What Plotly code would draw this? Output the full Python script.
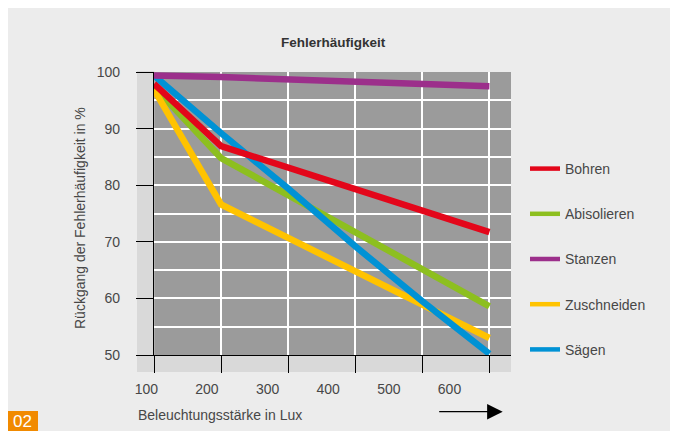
import plotly.graph_objects as go

# ---- data ----
lux = [100, 200, 300, 400, 500, 600]
bohren = [97.9, 86.9, None, None, None, 71.7]
abisolieren = [97.4, 84.8, None, None, None, 58.6]
stanzen = [99.4, 99.1, None, None, None, 97.5]
zuschneiden = [96.9, 76.6, None, None, None, 53.0]
saegen = [99.4, 89.2, 79.4, 69.2, 59.5, 50.2]
x_ticks = [100, 200, 300, 400, 500, 600]
y_ticks = [50, 60, 70, 80, 90, 100]

series = [
    ("Bohren", bohren, "#e3061a"),
    ("Abisolieren", abisolieren, "#8dbf1f"),
    ("Stanzen", stanzen, "#9c2f8b"),
    ("Zuschneiden", zuschneiden, "#ffc300"),
    ("Sägen", saegen, "#0092d5"),
]
draw_order = ["Abisolieren", "Zuschneiden", "Sägen", "Stanzen", "Bohren"]

FONT = "Liberation Sans, Arial, sans-serif"
TXT = "#474747"
FS = 14

# ---- geometry (figure pixels; page has 8px body margin) ----
OFF = 8
W, H = 670, 423
ML, MR, MT, MB = 146, 167, 64, 76
PL, PR, PT, PB = ML, W - MR, MT, H - MB


def px(page_x):
    return (page_x - OFF - PL) / (PR - PL)


def py(page_y):
    return (PB - (page_y - OFF)) / (PB - PT)


fig = go.Figure()

lookup = {n: (v, c) for n, v, c in series}
for name in draw_order:
    vals, col = lookup[name]
    xs = [x for x, v in zip(lux, vals) if v is not None]
    ys = [v for v in vals if v is not None]
    fig.add_trace(go.Scatter(x=xs, y=ys, mode="lines", line=dict(color=col, width=6.5),
                             showlegend=False, hoverinfo="skip", legendgroup=name))

for name, vals, col in series:
    fig.add_trace(go.Scatter(x=[None], y=[None], mode="lines", name=name,
                             line=dict(color=col, width=4.5), legendgroup=name))

# invisible trace to hold the tick-label axis
fig.add_trace(go.Scatter(x=[None], y=[None], xaxis="x2", yaxis="y", showlegend=False,
                         hoverinfo="skip"))

main_scale = (489.7 - 154.3) / 500          # px per lux on data axis
main_range = [100, 100 + (PR - PL) / main_scale]
lab_scale = (449.5 - 146.3) / 500           # px per lux on label axis
SHIFT = 9
lab100 = 146.3 - OFF + SHIFT                # fig px of the 100 label tick
lab_range = [100 - (lab100 - PL) / lab_scale, 100 + (PR - lab100) / lab_scale]

shapes = [
    dict(type="rect", xref="paper", yref="paper", x0=px(137), x1=px(154.3), y0=py(355.3), y1=py(71),
         fillcolor="#d9d9d9", line=dict(width=0), layer="below"),
    dict(type="rect", xref="paper", yref="paper", x0=px(137), x1=px(511), y0=py(372), y1=py(355.3),
         fillcolor="#d9d9d9", line=dict(width=0), layer="below"),
    dict(type="rect", xref="paper", yref="paper", x0=px(6), x1=px(38), y0=py(432), y1=py(411),
         fillcolor="#f18a00", line=dict(width=0), layer="above"),
]

annotations = [
    dict(text="<b>Fehlerhäufigkeit</b>", x=px(333), y=py(43), xref="paper", yref="paper",
         showarrow=False, font=dict(family=FONT, size=13.5, color="#333333"),
         xanchor="center", yanchor="middle"),
    dict(text="Beleuchtungsstärke in Lux", x=px(136), y=py(414.5), xref="paper", yref="paper",
         showarrow=False, font=dict(family=FONT, size=FS, color=TXT),
         xanchor="left", yanchor="middle"),
    dict(text="Rückgang der Fehlerhäufigkeit in %", x=px(80), y=py(218), xref="paper", yref="paper",
         showarrow=False, textangle=-90, font=dict(family=FONT, size=FS, color=TXT),
         xanchor="center", yanchor="middle"),
    dict(text="02", x=px(22), y=py(421.5), xref="paper", yref="paper", showarrow=False,
         font=dict(family=FONT, size=17, color="white"), xanchor="center", yanchor="middle"),
    dict(text="", x=px(502.7), y=py(411.7), xref="paper", yref="paper", showarrow=True,
         ax=-65, ay=0, arrowhead=2, arrowsize=2.4, arrowwidth=1.3, arrowcolor="black"),
]

fig.update_layout(
    width=W, height=H,
    margin=dict(l=ML, r=MR, t=MT, b=MB, pad=0),
    paper_bgcolor="#ececec",
    plot_bgcolor="#9b9b9b",
    font=dict(family=FONT, size=FS, color=TXT),
    showlegend=True,
    legend=dict(x=px(525), y=py(153), xanchor="left", yanchor="top",
                bgcolor="rgba(0,0,0,0)", tracegroupgap=24, traceorder="grouped",
                font=dict(family=FONT, size=FS, color=TXT)),
    xaxis=dict(range=main_range, tickvals=x_ticks, showticklabels=False,
               ticks="outside", ticklen=17, tickwidth=1.3, tickcolor="black",
               showline=True, linecolor="black", linewidth=1.3,
               showgrid=True, gridcolor="white", gridwidth=1.5, zeroline=False),
    xaxis2=dict(range=lab_range, overlaying="x", anchor="y", side="bottom",
                tickvals=x_ticks, ticktext=[str(v) for v in x_ticks], showgrid=False,
                showline=False, zeroline=False, ticks="outside", ticklen=17,
                tickcolor="rgba(0,0,0,0)", ticklabelshift=-SHIFT, ticklabelstandoff=4,
                tickfont=dict(family=FONT, size=FS, color=TXT)),
    yaxis=dict(range=[50, 100], tickvals=y_ticks, anchor="x",
               ticks="outside", ticklen=17, tickwidth=1.3, tickcolor="black",
               showline=True, linecolor="black", linewidth=1.3,
               showgrid=True, gridcolor="white", gridwidth=1.5, zeroline=False,
               minor=dict(dtick=5, showgrid=True, gridcolor="white", gridwidth=1.5),
               ticklabelstandoff=13, tickfont=dict(family=FONT, size=FS, color=TXT)),
    shapes=shapes,
    annotations=annotations,
)

fig.write_html("out.html")
